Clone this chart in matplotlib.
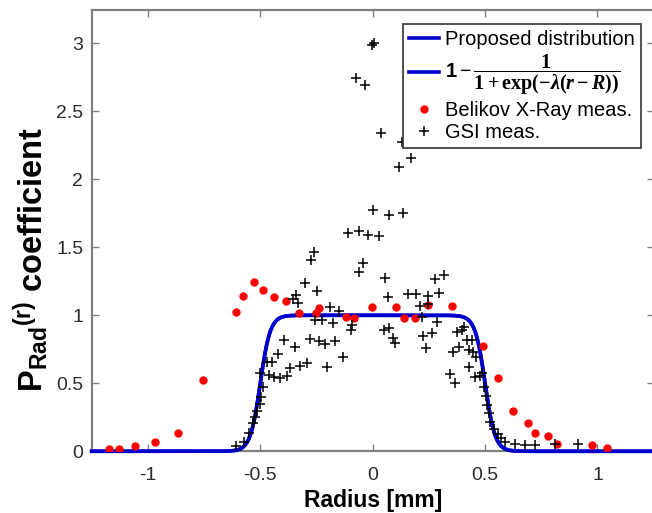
import numpy as np
import matplotlib

matplotlib.use("Agg")
import matplotlib.pyplot as plt

plt.rcParams["font.family"] = ["Liberation Sans", "DejaVu Sans"]
plt.rcParams["mathtext.fontset"] = "custom"
plt.rcParams["mathtext.rm"] = "Liberation Serif:bold"
plt.rcParams["mathtext.it"] = "Liberation Serif:bold:italic"
plt.rcParams["mathtext.bf"] = "Liberation Serif:bold"
plt.rcParams["mathtext.sf"] = "Liberation Sans:bold"

BLUE = "#0000cd"
RED = "#ff0000"
AXIS_GRAY = "#808080"
TEXT_GRAY = "#2b2b2b"

# model curve parameters
R_EDGE = 0.5
LAMBDA = 45.0

# Belikov X-ray measurements
belikov_r = [-1.174, -1.128, -1.057, -0.968, -0.868, -0.756, -0.607, -0.577,
             -0.530, -0.490, -0.438, -0.386, -0.327, -0.252, -0.239, -0.118,
             -0.081, -0.002, 0.103, 0.139, 0.189, 0.244, 0.352, 0.490,
             0.559, 0.623, 0.692, 0.722, 0.781, 0.819, 0.977, 1.041]
belikov_p = [0.017, 0.017, 0.039, 0.068, 0.135, 0.524, 1.024, 1.140,
             1.243, 1.186, 1.137, 1.105, 1.015, 1.019, 1.051, 0.985,
             0.980, 1.059, 1.059, 0.980, 0.980, 1.076, 1.071, 0.777,
             0.541, 0.299, 0.206, 0.137, 0.113, 0.054, 0.044, 0.026]

# GSI measurements
gsi_r = [0.007, -0.004, -0.073, -0.033, 0.038, 0.130, 0.171, 0.118,
         0.001, 0.073, 0.137, -0.110, -0.059, -0.019, 0.026, -0.260,
         -0.273, -0.045, -0.060, 0.057, -0.300, -0.248, -0.341, -0.355,
         -0.332, 0.066, -0.192, -0.150, -0.257, -0.226, -0.178, -0.090,
         -0.096, 0.049, 0.074, 0.092, 0.101, -0.393, -0.279, -0.241,
         -0.212, -0.168, -0.344, -0.422, -0.133, -0.291, -0.322, -0.204,
         -0.369, -0.381, -0.411, -0.438, -0.463, -0.500, -0.468, -0.448,
         -0.490, -0.497, -0.503, -0.515, -0.522, -0.532, -0.552, -0.573,
         -0.607,
         0.156, 0.193, 0.248, 0.276, 0.317, 0.296, 0.209, 0.244,
         0.220, 0.288, 0.222, 0.266, 0.235, 0.374, 0.396, 0.408,
         0.421, 0.442, 0.386, 0.358, 0.428, 0.447, 0.461, 0.429,
         0.344, 0.367, 0.457, 0.478, 0.485, 0.496, 0.504, 0.508,
         0.516, 0.524, 0.540, 0.557, 0.570, 0.589, 0.633, 0.679,
         0.724, 0.811, 0.913]
gsi_p = [3.000, 2.988, 2.747, 2.693, 2.338, 2.272, 2.154, 2.093,
         1.774, 1.738, 1.754, 1.603, 1.620, 1.590, 1.583, 1.468,
         1.403, 1.387, 1.322, 1.272, 1.241, 1.181, 1.146, 1.120,
         1.088, 1.138, 1.059, 1.030, 0.968, 0.963, 0.946, 0.929,
         0.892, 0.892, 0.910, 0.835, 0.796, 0.818, 0.827, 0.813,
         0.787, 0.813, 0.765, 0.715, 0.696, 0.647, 0.627, 0.622,
         0.610, 0.554, 0.540, 0.549, 0.561, 0.578, 0.659, 0.659,
         0.471, 0.401, 0.348, 0.299, 0.254, 0.206, 0.132, 0.068,
         0.039,
         1.154, 1.160, 1.142, 1.265, 1.296, 1.166, 1.070, 1.083,
         0.988, 0.949, 0.846, 0.868, 0.757, 0.879, 0.892, 0.912,
         0.821, 0.821, 0.767, 0.730, 0.745, 0.729, 0.693, 0.618,
         0.566, 0.500, 0.544, 0.551, 0.576, 0.475, 0.405, 0.340,
         0.279, 0.218, 0.162, 0.127, 0.096, 0.065, 0.056, 0.046,
         0.046, 0.051, 0.050]

x_ticks = [-1, -0.5, 0, 0.5, 1]
x_tick_labels = ["-1", "-0.5", "0", "0.5", "1"]
y_ticks = [0, 0.5, 1, 1.5, 2, 2.5, 3]
y_tick_labels = ["0", "0.5", "1", "1.5", "2", "2.5", "3"]

X_LIM = (-1.25, 1.25)
Y_LIM = (0, 3.245)


def proposed(r):
    return 1 - 1 / (1 + np.exp(-LAMBDA * (np.abs(r) - R_EDGE)))


fig = plt.figure(figsize=(6.52, 5.13), dpi=100)
ax = fig.add_axes([0.1406, 0.1203, 0.862, 0.8602])

r = np.linspace(X_LIM[0], X_LIM[1], 1200)
ax.plot(r, proposed(r), color=BLUE, lw=2.6, clip_on=False, zorder=3,
        label="Proposed distribution")
ax.plot(r, proposed(r), color=BLUE, lw=2.6, clip_on=False, zorder=3,
        label=r"$\mathsf{1}-\dfrac{1}{1+\exp(-\lambda(r-R))}$")
ax.plot(belikov_r, belikov_p, ls="none", marker="o", ms=5, color=RED,
        mec=RED, zorder=4, label="Belikov X-Ray meas.")
ax.plot(gsi_r, gsi_p, ls="none", marker="+", ms=6.5, mew=1.1, color="black",
        zorder=5, label="GSI meas.")

ax.set_xlim(*X_LIM)
ax.set_ylim(*Y_LIM)
ax.set_xticks(x_ticks, x_tick_labels)
ax.set_yticks(y_ticks, y_tick_labels)
ax.tick_params(direction="in", length=5, width=1, color=AXIS_GRAY,
               labelcolor=TEXT_GRAY, labelsize=14, top=True, right=True)
ax.tick_params(axis="x", pad=11)
ax.tick_params(axis="y", pad=6)
for sp in ax.spines.values():
    sp.set_color(AXIS_GRAY)
    sp.set_linewidth(1.6)

ax.set_xlabel("Radius [mm]", fontsize=16.5, fontweight="bold", color="black",
              labelpad=4)
# MATLAB-style sub then sup, placed one after the other
ax.set_ylabel(r"$\mathsf{P}_{\mathsf{Rad}}{}^{\mathsf{(r)}}$ coefficient",
              fontsize=23.5, fontweight="bold", color="black")
ax.yaxis.set_label_coords(-0.072, 0.435)

leg = ax.legend(loc="upper right", bbox_to_anchor=(0.977, 0.968),
                borderaxespad=0, fontsize=14.5, fancybox=False,
                framealpha=1, edgecolor="#333333", handlelength=1.5,
                handletextpad=0.3, borderpad=0.3, labelspacing=0.18,
                numpoints=1)
leg.get_frame().set_linewidth(1.2)
for t in leg.get_texts():
    t.set_color("black")

fig.savefig("out.png", dpi=100)
